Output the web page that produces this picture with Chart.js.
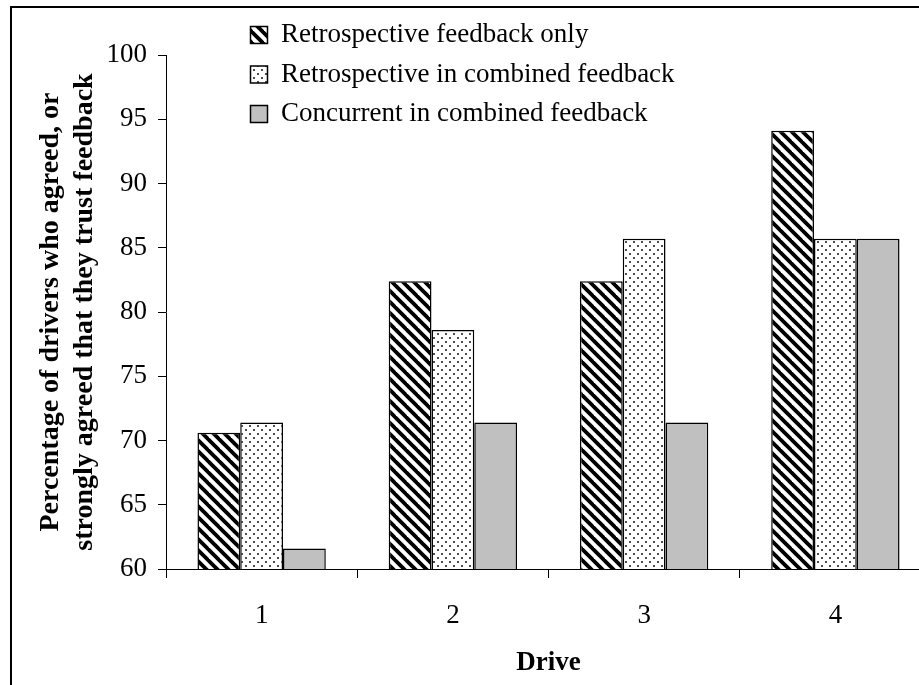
<!DOCTYPE html>
<html>
<head>
<meta charset="utf-8">
<script src="https://cdn.jsdelivr.net/npm/chart.js@4"></script>
<style>
html,body{margin:0;padding:0;background:#fff;overflow:hidden;width:919px;height:685px;}
#wrap{position:absolute;left:0;top:0;width:940px;height:685px;}
#frame{position:absolute;left:10px;top:6px;width:1000px;height:1000px;border-left:2px solid #000;border-top:2px solid #000;box-sizing:border-box;pointer-events:none;}
</style>
</head>
<body>
<div id="wrap"><canvas id="c"></canvas></div>
<div id="frame"></div>
<script>
// ---- data ----
const categories = ['1', '2', '3', '4'];
const seriesNames = ['Retrospective feedback only', 'Retrospective in combined feedback', 'Concurrent in combined feedback'];
const retroOnly = [70.6, 82.4, 82.4, 94.1];
const retroCombined = [71.4, 78.6, 85.7, 85.7];
const concurrentCombined = [61.6, 71.4, 71.4, 85.7];
const yMin = 60, yMax = 100, yStep = 5;
const xTitle = 'Drive';
const yTitle = ['Percentage of drivers who agreed, or', 'strongly agreed that they trust feedback'];

// ---- styles ----
const FONT = '"Liberation Serif", "Times New Roman", serif';

function makeHatch() {
  const T = 11;
  const c = document.createElement('canvas');
  c.width = T; c.height = T;
  const g = c.getContext('2d');
  g.fillStyle = '#fff'; g.fillRect(0, 0, T, T);
  g.strokeStyle = '#000'; g.lineWidth = 3.8;
  for (const k of [-T, 0, T]) {
    g.beginPath(); g.moveTo(-2, k - 2); g.lineTo(T + 2, T + k + 2); g.stroke();
  }
  return g.createPattern(c, 'repeat');
}
function makeDots() {
  const T = 8;
  const c = document.createElement('canvas');
  c.width = T; c.height = T;
  const g = c.getContext('2d');
  g.fillStyle = '#fff'; g.fillRect(0, 0, T, T);
  g.fillStyle = '#505050';
  g.fillRect(1, 1, 2, 2);
  g.fillRect(5, 5, 2, 2);
  return g.createPattern(c, 'repeat');
}

const legendPlace = {
  id: 'legendPlace',
  afterLayout(chart) {
    const lg = chart.legend;
    if (!lg) return;
    lg.left = 238; lg.top = 9; lg.right = 919; lg.bottom = 152;
    lg.width = lg.right - lg.left; lg.height = lg.bottom - lg.top;
  }
};

new Chart(document.getElementById('c'), {
  type: 'bar',
  data: {
    labels: categories,
    datasets: [
      { label: seriesNames[0], data: retroOnly, backgroundColor: makeHatch(), borderColor: '#000', borderWidth: 1.5 },
      { label: seriesNames[1], data: retroCombined, backgroundColor: makeDots(), borderColor: '#000', borderWidth: 1.5 },
      { label: seriesNames[2], data: concurrentCombined, backgroundColor: '#c0c0c0', borderColor: '#000', borderWidth: 1.5 }
    ]
  },
  options: {
    responsive: true,
    maintainAspectRatio: false,
    animation: false,
    events: [],
    layout: { padding: { left: 15, top: 54, right: 9, bottom: 0 } },
    datasets: { bar: { categoryPercentage: 0.671, barPercentage: 1.0 } },
    scales: {
      x: {
        grid: { offset: true, drawOnChartArea: false, tickLength: 9, color: '#000', lineWidth: 1 },
        border: { color: '#000', width: 1 },
        ticks: { font: { family: FONT, size: 27 }, color: '#000', padding: 22 },
        title: { display: true, text: xTitle, color: '#000', font: { family: FONT, size: 27, weight: 'bold' }, padding: { top: 0, bottom: 6 } },
        afterFit(s) { s.height = 116; }
      },
      y: {
        min: yMin, max: yMax,
        grid: { drawOnChartArea: false, tickLength: 8, color: '#000', lineWidth: 1 },
        border: { color: '#000', width: 1 },
        ticks: { stepSize: yStep, font: { family: FONT, size: 27 }, color: '#000', padding: 11 },
        title: { display: true, text: yTitle, color: '#000', font: { family: FONT, size: 28, weight: 'bold' }, padding: { top: 19, bottom: 0 } },
        afterFit(s) { s.width = 151; }
      }
    },
    plugins: {
      legend: {
        position: 'top', align: 'start', fullSize: false, maxHeight: 1,
        labels: { font: { family: FONT, size: 27 }, color: '#000', boxWidth: 17, boxHeight: 17, padding: 12.5 }
      },
      tooltip: { enabled: false }
    }
  },
  plugins: [legendPlace]
});
</script>
</body>
</html>
